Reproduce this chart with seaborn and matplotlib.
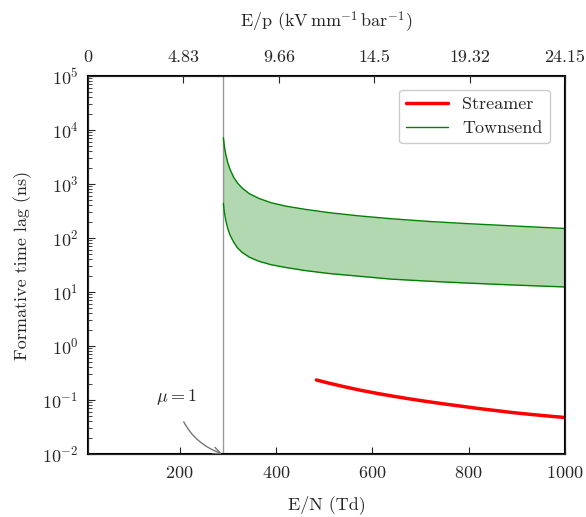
import numpy as np
import pandas as pd
import matplotlib
matplotlib.use("Agg")
import matplotlib.pyplot as plt
import seaborn as sns

# Reduced field E/N (Td) and formative time lag (ns)
townsend_en = [291, 293, 296, 300, 305, 312, 320, 330, 345, 365, 390, 420, 460, 510,
               570, 640, 720, 800, 900, 1000]
townsend_upper = [7200, 5000, 3500, 2500, 1850, 1350, 1050, 840, 660, 540, 450, 390, 340,
                  295, 258, 227, 202, 184, 166, 150]
townsend_lower = [439, 300, 210, 150, 112, 85, 66, 54, 44, 37, 32, 28.5, 25, 22,
                  19.7, 17.3, 15.8, 14.6, 13.4, 12.4]

streamer_en = [484, 510, 542, 575, 613, 650, 683, 720, 754, 790, 824, 860, 895, 930, 965, 1000]
streamer_lag = [0.235, 0.205, 0.176, 0.152, 0.131, 0.115, 0.103, 0.092, 0.0835, 0.0757,
                0.0690, 0.0632, 0.058, 0.054, 0.0505, 0.0474]

mu_one_en = 291.0

top_ticks = [0, 4.83, 9.66, 14.5, 19.32, 24.15]
top_tick_labels = ["0", "4.83", "9.66", "14.5", "19.32", "24.15"]
bottom_ticks = [200, 400, 600, 800, 1000]

sns.set_style("white")
plt.rcParams["font.family"] = ["serif"]
plt.rcParams["font.serif"] = ["cmr10", "DejaVu Serif"]
plt.rcParams["mathtext.fontset"] = "cm"
plt.rcParams["axes.formatter.use_mathtext"] = True
plt.rcParams["axes.unicode_minus"] = False
plt.rcParams["font.size"] = 13

fig = plt.figure(figsize=(5.86, 5.17), dpi=100)
ax = fig.add_axes([88 / 586, 1 - 454 / 517, (565 - 88) / 586, (454 - 76) / 517])

town = pd.DataFrame({"en": townsend_en, "upper": townsend_upper, "lower": townsend_lower})
strm = pd.DataFrame({"en": streamer_en, "lag": streamer_lag})

ax.fill_between(town["en"], town["lower"], town["upper"], color="green", alpha=0.3, linewidth=0)
sns.lineplot(data=strm, x="en", y="lag", ax=ax, color="red", linewidth=2.5, label="Streamer")
sns.lineplot(data=town, x="en", y="upper", ax=ax, color="green", linewidth=1, label="Townsend")
sns.lineplot(data=town, x="en", y="lower", ax=ax, color="green", linewidth=1)

ax.axvline(mu_one_en, color="#999999", linewidth=1, zorder=0)
ax.annotate(r"$\mu = 1$", xy=(mu_one_en - 3, 0.0101), xytext=(193, 0.114),
            ha="center", va="center", fontsize=13,
            arrowprops=dict(arrowstyle="->", color="#777777", linewidth=1,
                            shrinkA=9, shrinkB=0,
                            connectionstyle="arc3,rad=0.3"))

ax.set_yscale("log")
ax.set_ylim(1e-2, 1e5)
ax.set_xlim(10, 1000)
ax.set_xticks(bottom_ticks)
ax.set_xlabel("E/N (Td)", fontsize=13, labelpad=10)
ax.set_ylabel("Formative time lag (ns)", fontsize=13, labelpad=7)
ax.yaxis.set_major_locator(matplotlib.ticker.LogLocator(base=10, numticks=10))
ax.yaxis.set_minor_locator(matplotlib.ticker.LogLocator(base=10, subs=np.arange(2, 10), numticks=20))
ax.tick_params(axis="both", which="both", direction="in", labelsize=13)
ax.tick_params(axis="x", which="major", length=5, pad=8, bottom=True, top=False)
ax.tick_params(axis="y", which="major", length=5, left=True, right=False, pad=7)
ax.tick_params(axis="y", which="minor", length=3, left=True, right=False)
for s in ax.spines.values():
    s.set_color("black")
    s.set_linewidth(1.5)

top = ax.twiny()
top.set_xlim(0, 24.15)
top.set_xticks(top_ticks)
top.set_xticklabels(top_tick_labels)
top.tick_params(axis="x", direction="in", length=5, pad=8, labelsize=13)
top.set_xlabel(r"E/p (kV$\,$mm$^{-1}\,$bar$^{-1}$)", fontsize=13, labelpad=16)

leg = ax.legend(loc="upper right", fontsize=13, frameon=True, fancybox=True,
                edgecolor="#cccccc", framealpha=1, borderpad=0.4,
                labelspacing=0.45, handlelength=2.3, bbox_to_anchor=(0.987, 0.988))

fig.savefig("out.png", dpi=100)
